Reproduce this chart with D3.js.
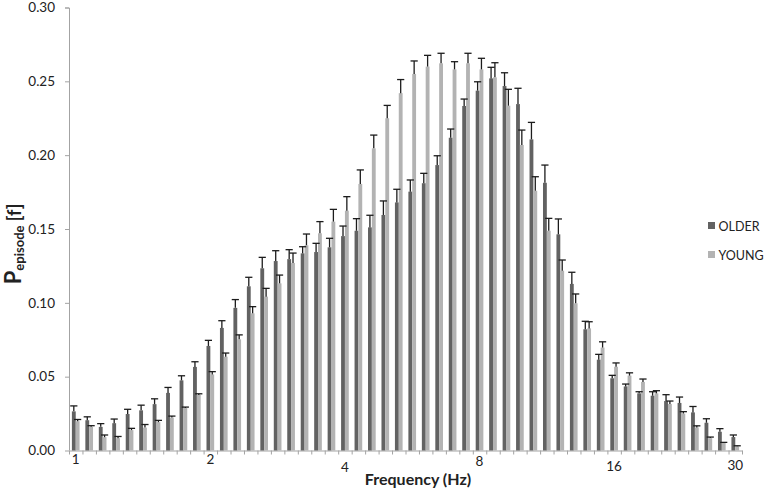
<!DOCTYPE html>
<html>
<head>
<meta charset="utf-8">
<title> P episode by frequency </title>
<script src="https://d3js.org/d3.v7.min.js"></script>
<style>

body {
  margin: 0;
  background: white;
}
svg text {
  font-family: Lato, "Open Sans", sans-serif;
  fill: #222;
}
.axis path, .axis line {
  stroke: #a3a3a3;
}
.axis text {
  font-size: 13.5px;
  fill: #222;
}

</style>
</head>

<body>
<svg id="barchart" width="767" height="492"></svg>

<script>

// frequency bins, 10 per octave from 1 Hz up to 30 Hz
const bins = d3.range(50);
const groups = ["OLDER", "YOUNG"];
const tickBins = [0, 10, 20, 30, 40, 49];
const tickLabels = ["1", "2", "4", "8", "16", "30"];
const yTicks = [0, 0.05, 0.10, 0.15, 0.20, 0.25, 0.30];

// mean P episode and error (upper bar) per bin
const olderMean = [0.0265, 0.0205, 0.0160, 0.0185, 0.0247, 0.0272, 0.0314, 0.0390, 0.0475, 0.0566,
                   0.0708, 0.0830, 0.0966, 0.1112, 0.1234, 0.1283, 0.1296, 0.1335, 0.1344, 0.1376,
                   0.1452, 0.1488, 0.1511, 0.1595, 0.1680, 0.1753, 0.1810, 0.1933, 0.2118, 0.2333,
                   0.2437, 0.2520, 0.2468, 0.2346, 0.2107, 0.1813, 0.1464, 0.1128, 0.0821, 0.0615,
                   0.0489, 0.0434, 0.0387, 0.0371, 0.0335, 0.0322, 0.0258, 0.0188, 0.0127, 0.0091];
const olderErr  = [0.0037, 0.0023, 0.0022, 0.0028, 0.0032, 0.0035, 0.0036, 0.0037, 0.0031, 0.0035,
                   0.0038, 0.0049, 0.0056, 0.0061, 0.0074, 0.0070, 0.0064, 0.0045, 0.0059, 0.0061,
                   0.0068, 0.0082, 0.0082, 0.0095, 0.0089, 0.0079, 0.0067, 0.0063, 0.0059, 0.0047,
                   0.0060, 0.0075, 0.0090, 0.0107, 0.0115, 0.0120, 0.0104, 0.0079, 0.0054, 0.0036,
                   0.0020, 0.0016, 0.0011, 0.0027, 0.0043, 0.0040, 0.0040, 0.0027, 0.0021, 0.0014];
const youngMean = [0.0198, 0.0160, 0.0090, 0.0083, 0.0138, 0.0155, 0.0192, 0.0223, 0.0288, 0.0376,
                   0.0515, 0.0635, 0.0753, 0.0929, 0.1042, 0.1132, 0.1270, 0.1390, 0.1471, 0.1550,
                   0.1624, 0.1805, 0.2046, 0.2250, 0.2420, 0.2550, 0.2600, 0.2622, 0.2581, 0.2622,
                   0.2581, 0.2527, 0.2335, 0.2069, 0.1759, 0.1488, 0.1218, 0.0997, 0.0827, 0.0697,
                   0.0567, 0.0507, 0.0464, 0.0387, 0.0315, 0.0250, 0.0156, 0.0084, 0.0051, 0.0028];
const youngErr  = [0.0012, 0.0008, 0.0015, 0.0012, 0.0012, 0.0021, 0.0012, 0.0010, 0.0006, 0.0008,
                   0.0019, 0.0025, 0.0030, 0.0045, 0.0056, 0.0056, 0.0067, 0.0076, 0.0079, 0.0083,
                   0.0095, 0.0095, 0.0090, 0.0087, 0.0092, 0.0088, 0.0076, 0.0068, 0.0052, 0.0068,
                   0.0075, 0.0099, 0.0111, 0.0101, 0.0095, 0.0084, 0.0072, 0.0063, 0.0045, 0.0039,
                   0.0026, 0.0019, 0.0020, 0.0018, 0.0020, 0.0013, 0.0011, 0.0007, 0.0004, 0.0004];

const colors = {OLDER: "#626262", YOUNG: "#b3b3b3"};

//chart space
const svg = d3.select("svg#barchart");
const width = svg.attr("width");
const height = svg.attr("height");
const margin = {top: 7.5, right: 25, bottom: 41.5, left: 69};
const chartWidth = width - margin.left - margin.right;
const chartHeight = height - margin.top - margin.bottom;

let annotations = svg.append("g").attr("id", "annotations");
let chartArea = svg.append("g").attr("id", "bars")
                  .attr("transform", `translate(${margin.left},${margin.top})`);

//one row per bin and group
const data = [];
bins.forEach((b, i) => {
  data.push({bin: b, group: "OLDER", mean: olderMean[i], err: olderErr[i]});
  data.push({bin: b, group: "YOUNG", mean: youngMean[i], err: youngErr[i]});
});

//scales
const yScale = d3.scaleLinear().domain([0, 0.30]).range([chartHeight, 0]);
const binScale = d3.scaleBand().domain(bins).range([0, chartWidth])
                   .paddingInner(0.43).paddingOuter(0.215);
const groupScale = d3.scaleBand().domain(groups).range([0, binScale.bandwidth()]);
const edgeScale = d3.scaleLinear().domain([0, bins.length]).range([0, chartWidth]);

//left axis
let leftAxis = d3.axisLeft(yScale)
                 .tickValues(yTicks)
                 .tickFormat(d3.format(".2f"))
                 .tickSize(4)
                 .tickPadding(10);
annotations.append("g")
           .attr("class", "y axis")
           .attr("transform", `translate(${margin.left},${margin.top})`)
           .call(leftAxis)
           .call(g => g.select(".domain").attr("d", `M-4,0.5H0.5V${chartHeight}`));

//bottom axis: tick marks between bins, labels only at octaves
let bottomAxis = d3.axisBottom(edgeScale)
                   .tickValues(d3.range(bins.length + 1))
                   .tickFormat("")
                   .tickSize(4)
                   .tickSizeOuter(0);
annotations.append("g")
           .attr("class", "x axis")
           .attr("transform", `translate(${margin.left},${margin.top + chartHeight})`)
           .call(bottomAxis);

const labelShift = [-4, -4, 4.5, -2, 3, 2];
tickBins.forEach((b, i) => {
  annotations.append("text")
             .attr("text-anchor", "middle")
             .attr("font-size", "13.5px")
             .attr("x", margin.left + binScale(b) + binScale.bandwidth() / 2)
             .attr("y", margin.top + chartHeight + 17 + labelShift[i])
             .text(tickLabels[i]);
});

//axis titles
annotations.append("text")
           .attr("text-anchor", "middle")
           .attr("font-size", "16px")
           .attr("font-weight", "bold")
           .attr("x", 418)
           .attr("y", 485)
           .text("Frequency (Hz)");

let yTitle = annotations.append("text")
           .attr("text-anchor", "middle")
           .attr("font-weight", "bold")
           .attr("transform", "translate(21,244) rotate(-90)");
yTitle.append("tspan").attr("font-size", "22px").text("P");
yTitle.append("tspan").attr("font-size", "13px").attr("dy", 3).text("episode");
yTitle.append("tspan").attr("font-size", "18px").attr("dy", -3).text(" [f]");

//bars
chartArea.selectAll("rect.bar")
         .data(data)
         .join("rect")
         .attr("class", "bar")
         .attr("fill", d => colors[d.group])
         .attr("x", d => binScale(d.bin) + groupScale(d.group))
         .attr("y", d => yScale(d.mean))
         .attr("width", groupScale.bandwidth())
         .attr("height", d => yScale(0) - yScale(d.mean));

//error bars (upper only)
const cap = 3.6;
let errs = chartArea.selectAll("g.err")
         .data(data)
         .join("g")
         .attr("class", "err")
         .attr("stroke", "#1c1c1c")
         .attr("stroke-width", 1.3);
errs.append("line")
    .attr("x1", d => binScale(d.bin) + groupScale(d.group) + groupScale.bandwidth() / 2)
    .attr("x2", d => binScale(d.bin) + groupScale(d.group) + groupScale.bandwidth() / 2)
    .attr("y1", d => yScale(d.mean))
    .attr("y2", d => yScale(d.mean + d.err));
errs.append("line")
    .attr("x1", d => binScale(d.bin) + groupScale(d.group) + groupScale.bandwidth() / 2 - cap)
    .attr("x2", d => binScale(d.bin) + groupScale(d.group) + groupScale.bandwidth() / 2 + cap)
    .attr("y1", d => yScale(d.mean + d.err))
    .attr("y2", d => yScale(d.mean + d.err));

//legend
const legend = svg.append("g")
                .attr("class", "legend")
                .attr("transform", "translate(708,222)");
groups.forEach((g, i) => {
  legend.append("rect").attr("x", 0).attr("y", i * 29).attr("width", 7).attr("height", 7)
        .attr("fill", colors[g]);
  legend.append("text").attr("x", 10.5).attr("y", i * 29 + 8.5)
        .attr("font-size", "12.5px").text(g);
});

</script>
</body>
</html>
